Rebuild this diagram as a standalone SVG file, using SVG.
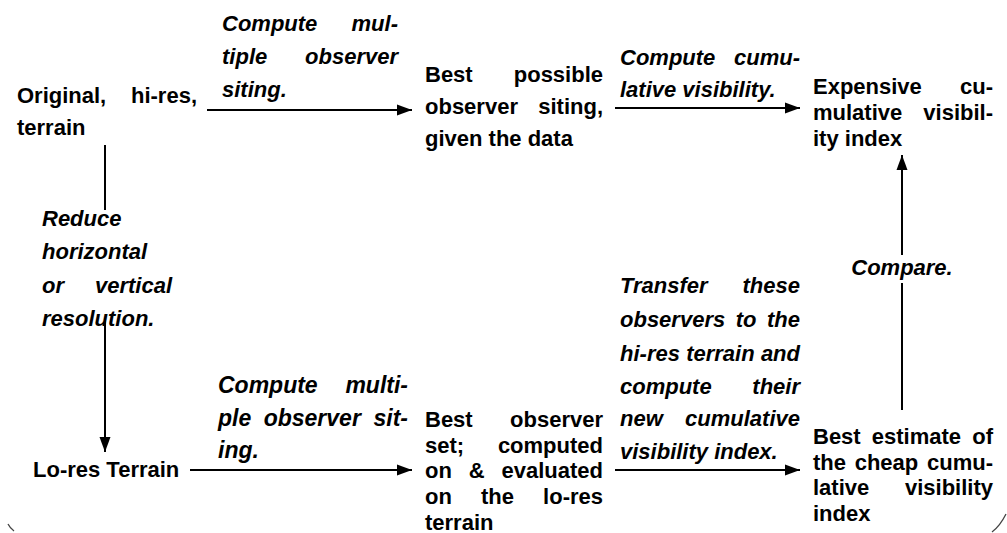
<svg xmlns="http://www.w3.org/2000/svg" width="1007" height="533" viewBox="0 0 1007 533">
<style>
.b{font-family:"Liberation Sans",Arial,sans-serif;font-weight:bold;font-size:22px;fill:#000}
.i{font-family:"Liberation Sans",Arial,sans-serif;font-weight:bold;font-style:italic;font-size:22px;fill:#000}
.i2{font-family:"Liberation Sans",Arial,sans-serif;font-weight:bold;font-style:italic;font-size:23px;fill:#000}
.e{text-anchor:end}
.m{text-anchor:middle}
.ln{stroke:#000;stroke-width:2;fill:none}
</style>
<defs>
<marker id="ah" markerUnits="userSpaceOnUse" markerWidth="16" markerHeight="12" refX="15" refY="6" orient="auto">
<path d="M0,0.5 L15,6 L0,11.5 Z" fill="#000"/>
</marker>
</defs>
<rect width="1007" height="533" fill="#fff"/>

<g id="connectors">
<line class="ln" x1="207" y1="110" x2="412" y2="110" marker-end="url(#ah)"/>
<line class="ln" x1="615" y1="108" x2="800" y2="108" marker-end="url(#ah)"/>
<line class="ln" x1="190" y1="470" x2="412" y2="470" marker-end="url(#ah)"/>
<line class="ln" x1="615" y1="470" x2="800" y2="470" marker-end="url(#ah)"/>
<line class="ln" x1="105" y1="145" x2="105" y2="210"/>
<line class="ln" x1="105" y1="318" x2="105" y2="452" marker-end="url(#ah)"/>
<line class="ln" x1="902" y1="410" x2="902" y2="283"/>
<line class="ln" x1="902" y1="255" x2="902" y2="155" marker-end="url(#ah)"/>
<g id="lbl-hires-siting">
<text class="i" x="222" y="31">Compute</text><text class="i e" x="398" y="31">mul-</text>
<text class="i" x="222" y="64">tiple</text><text class="i e" x="398" y="64">observer</text>
<text class="i" x="222" y="97">siting.</text>
</g>
<g id="lbl-cum-vis">
<text class="i" x="620" y="65">Compute</text><text class="i e" x="800" y="65">cumu-</text>
<text class="i" x="620" y="97">lative visibility.</text>
</g>
<g id="lbl-reduce">
<text class="i" x="42" y="226">Reduce</text>
<text class="i" x="42" y="259">horizontal</text>
<text class="i" x="42" y="292.5">or</text><text class="i e" x="172" y="292.5">vertical</text>
<text class="i" x="42" y="326">resolution.</text>
</g>
<g id="lbl-compare">
<text class="i m" x="902" y="275">Compare.</text>
</g>
<g id="lbl-lores-siting">
<text class="i2" x="218" y="393">Compute</text><text class="i2 e" x="408" y="393">multi-</text>
<text class="i2" x="218" y="425.5">ple</text><text class="i2" x="263.7" y="425.5">observer</text><text class="i2 e" x="408" y="425.5">sit-</text>
<text class="i2" x="218" y="458">ing.</text>
</g>
<g id="lbl-transfer">
<text class="i" x="620" y="293">Transfer</text><text class="i e" x="800" y="293">these</text>
<text class="i" x="620" y="327">observers</text><text class="i" x="735.7" y="327">to</text><text class="i e" x="800" y="327">the</text>
<text class="i" x="620" y="361">hi-res</text><text class="i" x="686.2" y="361">terrain</text><text class="i e" x="800" y="361">and</text>
<text class="i" x="620" y="394">compute</text><text class="i e" x="800" y="394">their</text>
<text class="i" x="620" y="426">new</text><text class="i e" x="800" y="426">cumulative</text>
<text class="i" x="620" y="459">visibility index.</text>
</g>
</g>

<g id="node-hires">
<text class="b" x="17" y="103">Original,</text><text class="b e" x="197" y="103">hi-res,</text>
<text class="b" x="17" y="135">terrain</text>
</g>
<g id="node-best-possible">
<text class="b" x="425" y="82">Best</text><text class="b e" x="603" y="82">possible</text>
<text class="b" x="425" y="114">observer</text><text class="b e" x="603" y="114">siting,</text>
<text class="b" x="425" y="146">given the data</text>
</g>
<g id="node-expensive">
<text class="b" x="813" y="94">Expensive</text><text class="b e" x="993" y="94">cu-</text>
<text class="b" x="813" y="119.5">mulative</text><text class="b e" x="993" y="119.5">visibil-</text>
<text class="b" x="813" y="146">ity index</text>
</g>
<g id="node-lores">
<text class="b" x="33" y="477">Lo-res Terrain</text>
</g>
<g id="node-best-set">
<text class="b" x="425" y="427">Best</text><text class="b e" x="603" y="427">observer</text>
<text class="b" x="425" y="452.5">set;</text><text class="b e" x="603" y="452.5">computed</text>
<text class="b" x="425" y="478">on</text><text class="b" x="468.7" y="478">&amp;</text><text class="b e" x="603" y="478">evaluated</text>
<text class="b" x="425" y="503.5">on</text><text class="b" x="481" y="503.5">the</text><text class="b e" x="603" y="503.5">lo-res</text>
<text class="b" x="425" y="530">terrain</text>
</g>
<g id="node-best-estimate">
<text class="b" x="813" y="444">Best</text><text class="b" x="871.8" y="444">estimate</text><text class="b e" x="993" y="444">of</text>
<text class="b" x="813" y="469.5">the</text><text class="b" x="854.7" y="469.5">cheap</text><text class="b e" x="993" y="469.5">cumu-</text>
<text class="b" x="813" y="495">lative</text><text class="b e" x="993" y="495">visibility</text>
<text class="b" x="813" y="520.5">index</text>
</g>

<path d="M8,524 Q10,528 14,531" stroke="#444" stroke-width="1.3" fill="none"/>
<path d="M992,532 Q1000,526 1006,514" stroke="#444" stroke-width="1.3" fill="none"/>
</svg>
